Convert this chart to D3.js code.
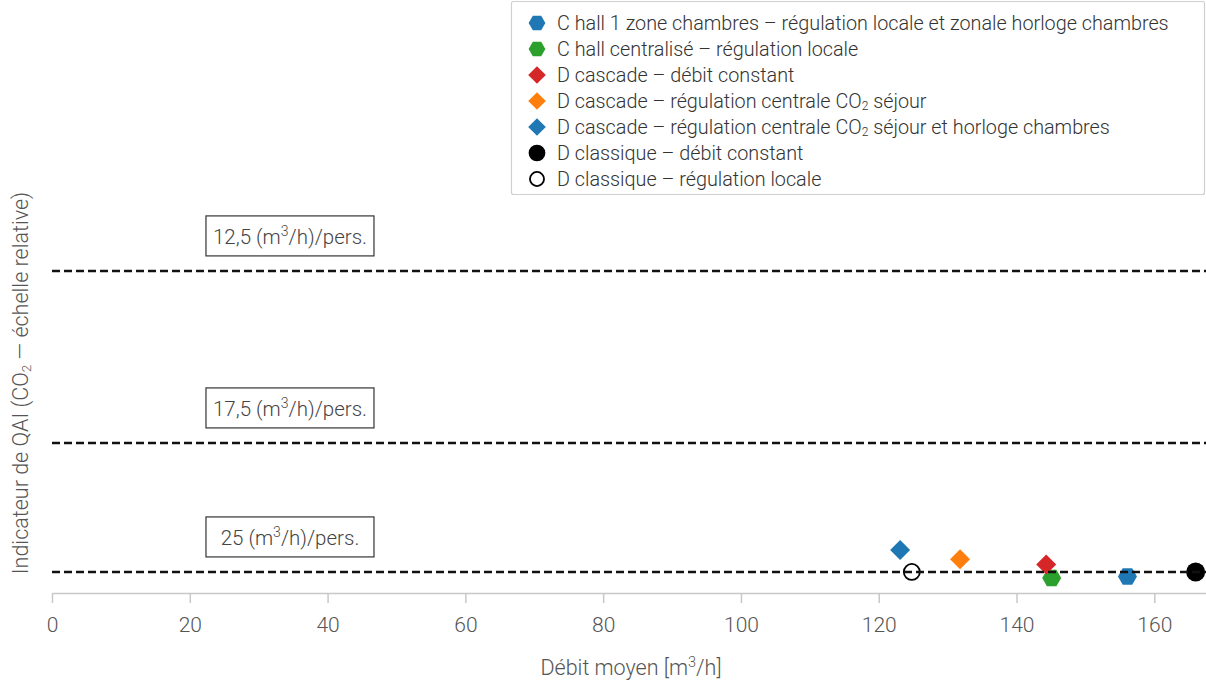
<!DOCTYPE html>
<html>
<head>
<meta charset="utf-8">
<script src="https://cdn.jsdelivr.net/npm/d3@7"></script>
<style>
  body { margin: 0; background: #fff; }
  svg { display: block; }
  text { font-family: Roboto, "Helvetica Neue", Arial, sans-serif; font-weight: 300; }
</style>
</head>
<body>
<svg id="chart" width="1206" height="681"></svg>
<script>
// Ventilation systems: mean airflow vs. relative IAQ indicator
const seriesNames = [
  "C hall 1 zone chambres – régulation locale et zonale horloge chambres",
  "C hall centralisé – régulation locale",
  "D cascade – débit constant",
  "D cascade – régulation centrale CO2 séjour",
  "D cascade – régulation centrale CO2 séjour et horloge chambres",
  "D classique – débit constant",
  "D classique – régulation locale"
];
const debitMoyen    = [156.1, 145.1, 144.3, 131.8, 123.1, 166.0, 124.8];   // m³/h
const indicateurQAI = [39.4, 39.2, 41.0, 41.7, 42.9, 40.0, 40.0];          // relative CO2 scale
const refRates      = [12.5, 17.5, 25];                                    // (m³/h)/pers.
const refLabels     = ["12,5", "17,5", "25"];
const xTicks        = [0, 20, 40, 60, 80, 100, 120, 140, 160];

// relative CO2 level produced by a given per-person airflow
const levelForRate = r => 1000 / r;

const markerShape = ["hexagon", "hexagon", "diamond", "diamond", "diamond", "circle", "circle"];
const markerColor = ["#1f77b4", "#2ca02c", "#d62728", "#ff7f0e", "#1f77b4", "#000", "none"];

const svg = d3.select("#chart");
const textColor = "#444";

const x = d3.scaleLinear().domain([0, 167.5]).range([52, 1206]);
const y = d3.scaleLinear().domain([37.2, 116.0]).range([593, 0]);

// x axis
const xAxis = svg.append("g")
  .attr("transform", `translate(0,${y.range()[0]})`)
  .call(d3.axisBottom(x).tickValues(xTicks).tickSize(10).tickPadding(14).tickSizeOuter(0));
xAxis.select(".domain").attr("stroke", "#c8c8c8").attr("stroke-width", 1.5);
xAxis.selectAll(".tick line").attr("stroke", "#c8c8c8").attr("stroke-width", 1.5);
xAxis.selectAll(".tick text")
  .attr("fill", "#555").attr("font-size", 21)
  .style("font-family", "Roboto, sans-serif").style("font-weight", 300);

// axis titles
const xTitle = svg.append("text")
  .attr("x", 631).attr("y", 675)
  .attr("text-anchor", "middle").attr("font-size", 21.5).attr("fill", "#555");
xTitle.append("tspan").text("Débit moyen [m");
xTitle.append("tspan").attr("font-size", 14.5).attr("dy", -8).text("3");
xTitle.append("tspan").attr("dy", 8).text("/h]");

const yTitle = svg.append("text")
  .attr("transform", "translate(28,383) rotate(-90)")
  .attr("text-anchor", "middle").attr("font-size", 21.5).attr("fill", "#555");
yTitle.append("tspan").text("Indicateur de QAI (CO");
yTitle.append("tspan").attr("font-size", 13.5).attr("dy", 3).text("2");
yTitle.append("tspan").attr("dy", -3).text(" — échelle relative)");

// data points
const hexPath = r => {
  const pts = d3.range(6).map(i => {
    const a = Math.PI / 3 * i;
    return [r * Math.cos(a), r * Math.sin(a)];
  });
  return "M" + pts.map(p => p.join(",")).join("L") + "Z";
};
const diamondPath = r => `M0,${-r}L${r},0L0,${r}L${-r},0Z`;

function drawMarker(g, i, scale) {
  const s = scale || 1;
  if (markerShape[i] === "hexagon") {
    g.append("path").attr("d", hexPath(9.5 * s)).attr("fill", markerColor[i]);
  } else if (markerShape[i] === "diamond") {
    g.append("path").attr("d", diamondPath(10 * s)).attr("fill", markerColor[i]);
  } else if (markerColor[i] === "none") {
    g.append("circle").attr("r", 8 * s).attr("fill", "none").attr("stroke", "#000").attr("stroke-width", 1.8);
  } else {
    g.append("circle").attr("r", 9.5 * s).attr("fill", markerColor[i]);
  }
}

const pts = svg.append("g");
seriesNames.forEach((name, i) => {
  const g = pts.append("g")
    .attr("transform", `translate(${x(debitMoyen[i])},${y(indicateurQAI[i])})`);
  drawMarker(g, i, 1);
});

// per-person airflow reference lines with labels
const refs = svg.append("g");
refRates.forEach((r, i) => {
  const yy = y(levelForRate(r));
  refs.append("line")
    .attr("x1", x(0)).attr("x2", x.range()[1])
    .attr("y1", yy).attr("y2", yy)
    .attr("stroke", "#111").attr("stroke-width", 2.5)
    .attr("stroke-dasharray", "8,4");
  const bx = x(22.35), bw = 168, bh = 40, by = yy - 15 - bh;
  refs.append("rect")
    .attr("x", bx).attr("y", by).attr("width", bw).attr("height", bh)
    .attr("fill", "#fff").attr("stroke", "#333").attr("stroke-width", 1.2);
  const t = refs.append("text")
    .attr("x", bx + bw / 2).attr("y", by + 28)
    .attr("text-anchor", "middle").attr("font-size", 20.5).attr("fill", textColor);
  t.append("tspan").text(refLabels[i] + " (m");
  t.append("tspan").attr("font-size", 14).attr("dy", -8).text("3");
  t.append("tspan").attr("dy", 8).text("/h)/pers.");
});

// legend
const legend = svg.append("g");
legend.append("rect")
  .attr("x", 511.5).attr("y", 1.5).attr("width", 693).attr("height", 193)
  .attr("rx", 2).attr("fill", "#fff").attr("stroke", "#cfcfcf").attr("stroke-width", 1.2);
seriesNames.forEach((name, i) => {
  const cy = 23 + i * 26;
  const g = legend.append("g").attr("transform", `translate(537,${cy})`);
  drawMarker(g, i, 0.88);
  const t = legend.append("text")
    .attr("x", 557).attr("y", cy + 7)
    .attr("font-size", 19.8).attr("fill", "#333");
  const parts = name.split("CO2");
  parts.forEach((p, k) => {
    if (k > 0) {
      t.append("tspan").text("CO");
      t.append("tspan").attr("font-size", 12).attr("dy", 2).text("2");
      t.append("tspan").attr("dy", -2).text(p);
    } else {
      t.append("tspan").text(p);
    }
  });
});
</script>
</body>
</html>
